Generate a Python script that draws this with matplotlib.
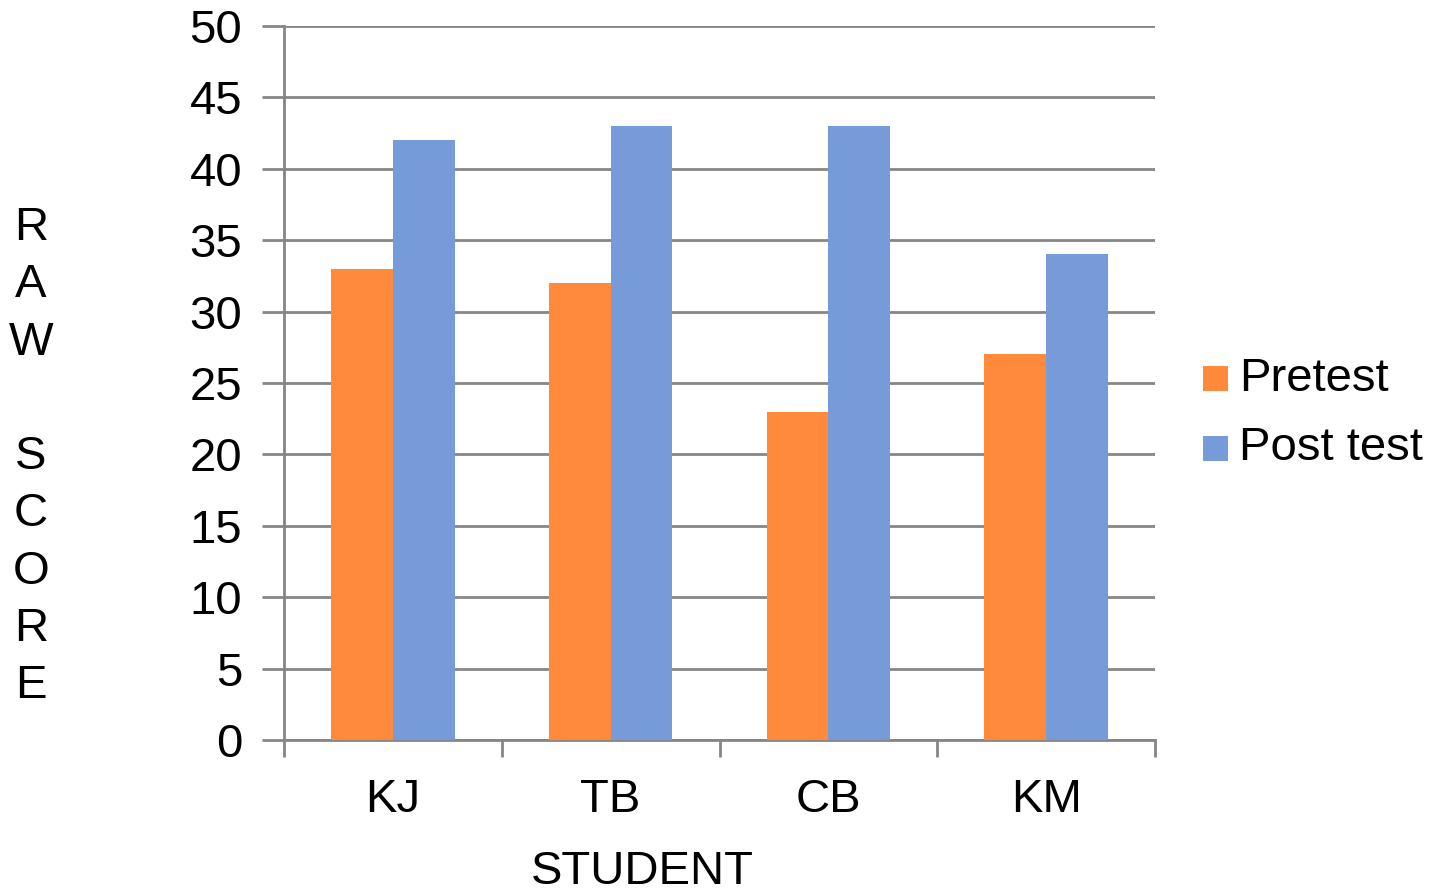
import matplotlib
matplotlib.use("Agg")
import matplotlib.pyplot as plt
import numpy as np
from matplotlib.patches import Rectangle

plt.rcParams['font.family'] = ['Liberation Sans', 'DejaVu Sans']

students = ["KJ", "TB", "CB", "KM"]
pretest = [33, 32, 23, 27]
post_test = [42, 43, 43, 34]
series_names = ["Pretest", "Post test"]
y_ticks = list(range(0, 51, 5))

orange = "#FF8A3B"
blue = "#779AD8"
grid_gray = "#868686"
FS = 34

W, H = 1436, 896
fig = plt.figure(figsize=(W / 100, H / 100), dpi=100)
ax = fig.add_axes([284 / W, 1 - 740 / H, (1155 - 284) / W, (740 - 26) / H])

x = np.arange(len(students))
w = 0.284
ax.bar(x - w / 2, pretest, width=w, color=orange, zorder=3)
ax.bar(x + w / 2, post_test, width=w, color=blue, zorder=3)

ax.set_xlim(-0.5, len(students) - 0.5)
ax.set_ylim(0, 50)
ax.set_yticks(y_ticks)
ax.set_yticklabels([str(v) for v in y_ticks], fontsize=FS)
ax.yaxis.grid(True, color=grid_gray, linewidth=2, zorder=0)
ax.tick_params(axis='y', length=16, width=2, color=grid_gray, pad=14)

# category labels centred, tick marks on category boundaries
ax.set_xticks(x)
ax.set_xticklabels(students, fontsize=FS)
ax.tick_params(axis='x', length=0, pad=27)
ax.set_xticks(np.arange(-0.5, len(students)), minor=True)
ax.tick_params(axis='x', which='minor', length=12, width=2, color=grid_gray)

for s in ["top", "right"]:
    ax.spines[s].set_visible(False)
for s in ["left", "bottom"]:
    ax.spines[s].set_color(grid_gray)
    ax.spines[s].set_linewidth(2)

fig.text(642 / W, 1 - 884 / H, "STUDENT", fontsize=FS, ha='center', va='baseline')

ylabel_letters = "RAW SCORE"
for i, ch in enumerate(ylabel_letters):
    if ch.strip():
        fig.text(31 / W, 1 - (228 + i * 57.3) / H, ch, fontsize=FS,
                 ha='center', va='center')

# legend: coloured squares with labels
legend_colors = [orange, blue]
legend_y = [379, 448]
for name, col, yc in zip(series_names, legend_colors, legend_y):
    fig.patches.append(Rectangle((1203 / W, 1 - (yc + 12.5) / H), 25 / W, 25 / H,
                                 transform=fig.transFigure, facecolor=col,
                                 edgecolor='none'))
    fig.text(1239 / W, 1 - yc / H, name, fontsize=FS, ha='left', va='center')

fig.savefig("out.png", dpi=100)
